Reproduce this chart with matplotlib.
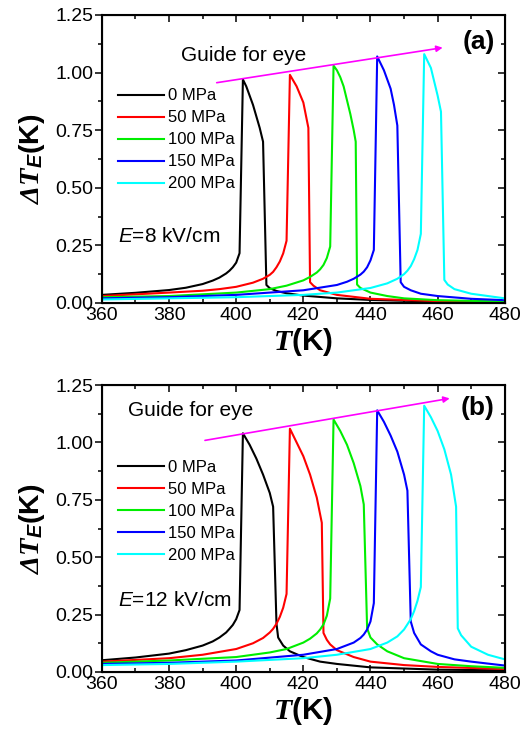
# electrocaloric dT_E vs T under stress, two field strengths

import matplotlib
matplotlib.use( 'Agg' )
import matplotlib.pyplot as plt
from matplotlib.ticker import MultipleLocator

# fonts
plt.rcParams[ 'font.family' ]      = [ 'Liberation Sans', 'DejaVu Sans' ]
plt.rcParams[ 'mathtext.fontset' ] = 'custom'
plt.rcParams[ 'mathtext.it' ]      = 'Liberation Serif:italic:bold'
plt.rcParams[ 'mathtext.rm' ]      = 'Liberation Serif:italic:bold'
plt.rcParams[ 'mathtext.bf' ]      = 'Liberation Sans:bold'
plt.rcParams[ 'mathtext.sf' ]      = 'Liberation Sans:bold:italic'
plt.rcParams[ 'mathtext.cal' ]     = 'Liberation Sans:italic'

# data; panel (a), E = 8 kV/cm
T0_a   = [ 360, 370, 380, 385, 390, 393, 395, 397, 398, 399, 400, 401, 402, 403, 404, 405, 406, 407, 408, 409, 410, 412, 415, 420, 430, 440, 460, 480 ]
dT0_a  = [ 0.035, 0.044, 0.056, 0.066, 0.082, 0.097, 0.11, 0.128, 0.14, 0.155, 0.175, 0.216, 0.97, 0.94, 0.90, 0.86, 0.81, 0.76, 0.70, 0.078, 0.064, 0.052, 0.042, 0.032, 0.02, 0.013, 0.006, 0.003 ]
T50_a  = [ 360, 380, 390, 395, 400, 405, 408, 410, 411, 412, 413, 414, 415, 416, 418, 420, 421.5, 422, 423, 425, 430, 440, 460, 480 ]
dT50_a = [ 0.03, 0.045, 0.053, 0.06, 0.07, 0.088, 0.105, 0.122, 0.135, 0.155, 0.18, 0.215, 0.27, 0.99, 0.94, 0.87, 0.76, 0.09, 0.075, 0.055, 0.035, 0.018, 0.008, 0.004 ]
T100_a  = [ 360, 380, 400, 410, 415, 420, 422, 424, 425, 426, 427, 428, 429, 430, 431, 432, 433, 434, 435, 435.6, 436, 437, 440, 445, 450, 460, 480 ]
dT100_a = [ 0.025, 0.03, 0.045, 0.06, 0.075, 0.098, 0.113, 0.132, 0.146, 0.165, 0.195, 0.245, 1.03, 1.01, 0.98, 0.94, 0.88, 0.82, 0.75, 0.70, 0.08, 0.065, 0.045, 0.03, 0.02, 0.012, 0.006 ]
T150_a  = [ 360, 380, 400, 420, 430, 433, 435, 437, 438, 439, 440, 441, 442, 444, 446, 447, 448, 449, 450, 452, 455, 460, 470, 480 ]
dT150_a = [ 0.02, 0.025, 0.035, 0.055, 0.078, 0.092, 0.105, 0.123, 0.136, 0.155, 0.185, 0.23, 1.07, 1.01, 0.93, 0.86, 0.77, 0.09, 0.07, 0.055, 0.04, 0.03, 0.018, 0.012 ]
T200_a  = [ 360, 400, 420, 430, 440, 445, 448, 450, 451, 452, 453, 454, 455, 456, 458, 460, 461, 462, 463, 465, 470, 475, 480 ]
dT200_a = [ 0.015, 0.025, 0.035, 0.045, 0.065, 0.085, 0.105, 0.125, 0.14, 0.16, 0.19, 0.23, 0.30, 1.08, 1.02, 0.90, 0.83, 0.10, 0.08, 0.06, 0.04, 0.03, 0.02 ]

# data; panel (b), E = 12 kV/cm
T0_b   = [ 360, 370, 380, 385, 390, 393, 395, 397, 398, 399, 400, 401, 402, 404, 406, 408, 410, 411, 412, 412.5, 414, 416, 420, 425, 430, 440, 460, 480 ]
dT0_b  = [ 0.051, 0.063, 0.08, 0.095, 0.115, 0.133, 0.15, 0.172, 0.188, 0.205, 0.23, 0.27, 1.04, 0.99, 0.93, 0.86, 0.78, 0.72, 0.21, 0.15, 0.115, 0.09, 0.065, 0.045, 0.035, 0.02, 0.01, 0.007 ]
T50_b  = [ 360, 380, 390, 400, 405, 408, 410, 411, 412, 413, 414, 415, 416, 418, 420, 422, 424, 425.5, 426, 427, 428, 430, 435, 440, 450, 460, 480 ]
dT50_b = [ 0.045, 0.06, 0.075, 0.1, 0.125, 0.148, 0.172, 0.188, 0.21, 0.24, 0.28, 0.34, 1.06, 1.0, 0.94, 0.86, 0.76, 0.65, 0.17, 0.14, 0.12, 0.095, 0.065, 0.045, 0.03, 0.022, 0.013 ]
T100_b  = [ 360, 380, 400, 410, 415, 420, 422, 424, 425, 426, 427, 428, 429, 431, 433, 435, 437, 438, 439, 440, 442, 445, 450, 460, 470, 480 ]
dT100_b = [ 0.04, 0.05, 0.065, 0.085, 0.1, 0.128, 0.145, 0.168, 0.185, 0.207, 0.245, 0.32, 1.10, 1.05, 0.99, 0.91, 0.81, 0.73, 0.19, 0.15, 0.12, 0.09, 0.06, 0.035, 0.025, 0.018 ]
T150_b  = [ 360, 380, 400, 420, 430, 435, 437, 438, 439, 440, 441, 442, 444, 446, 448, 450, 451, 452, 453, 455, 458, 460, 465, 470, 480 ]
dT150_b = [ 0.035, 0.04, 0.05, 0.075, 0.1, 0.128, 0.148, 0.163, 0.185, 0.22, 0.30, 1.14, 1.09, 1.03, 0.96, 0.86, 0.79, 0.22, 0.17, 0.12, 0.09, 0.075, 0.055, 0.045, 0.028 ]
T200_b  = [ 360, 380, 400, 420, 430, 440, 445, 448, 450, 452, 453, 454, 455, 456, 458, 460, 462, 464, 465.5, 466, 467, 470, 475, 480 ]
dT200_b = [ 0.03, 0.035, 0.045, 0.06, 0.075, 0.1, 0.128, 0.155, 0.185, 0.23, 0.265, 0.31, 0.37, 1.16, 1.11, 1.05, 0.97, 0.86, 0.72, 0.19, 0.16, 0.11, 0.075, 0.055 ]

LABELS = [ '0 MPa', '50 MPa', '100 MPa', '150 MPa', '200 MPa' ]
COLORS = [ 'black', '#ff0000', '#00ee00', '#0000ff', '#00ffff' ]

# guide arrows, start and end in data coordinates
GUIDE_A = [ ( 394.2, 0.956 ), ( 461.5, 1.108 ) ]
GUIDE_B = [ ( 390.7, 1.009 ), ( 463.6, 1.192 ) ]

panels = [
	dict( curves=[ ( T0_a, dT0_a ), ( T50_a, dT50_a ), ( T100_a, dT100_a ), ( T150_a, dT150_a ), ( T200_a, dT200_a ) ],
	      rect=[ 0.193, 0.585, 0.763, 0.3945 ], tag='(a)', tagy=0.905, field='=8 kV/cm', fieldy=0.23,
	      guide=GUIDE_A, guidetext=( 383.5, 1.076 ), legy=0.745 ),
	dict( curves=[ ( T0_b, dT0_b ), ( T50_b, dT50_b ), ( T100_b, dT100_b ), ( T150_b, dT150_b ), ( T200_b, dT200_b ) ],
	      rect=[ 0.193, 0.0795, 0.763, 0.393 ], tag='(b)', tagy=0.92, field='=12 kV/cm', fieldy=0.248,
	      guide=GUIDE_B, guidetext=( 367.7, 1.138 ), legy=0.74 ),
]

# initialize
figure = plt.figure( figsize=( 5.28, 7.30 ), dpi=100 )

for panel in panels :

	axis = figure.add_axes( panel[ 'rect' ] )

	# curves
	for ( x, y ), label, color in zip( panel[ 'curves' ], LABELS, COLORS ) :
		axis.plot( x, y, color=color, lw=1.5, label=label )

	# axes
	axis.set_xlim( 360, 480 )
	axis.set_ylim( 0, 1.25 )
	axis.xaxis.set_major_locator( MultipleLocator( 20 ) )
	axis.xaxis.set_minor_locator( MultipleLocator( 10 ) )
	axis.yaxis.set_major_locator( MultipleLocator( 0.25 ) )
	axis.yaxis.set_minor_locator( MultipleLocator( 0.125 ) )
	axis.yaxis.set_major_formatter( '{x:.2f}' )
	for spine in axis.spines.values() : spine.set_linewidth( 1.5 )
	axis.tick_params( axis='x', which='both', direction='in', top=True, labelsize=14, width=1.1, pad=3 )
	axis.tick_params( axis='x', which='major', length=5 )
	axis.tick_params( axis='x', which='minor', length=3 )
	axis.tick_params( axis='y', which='both', direction='out', labelsize=14, width=1.1, pad=1 )
	axis.tick_params( axis='y', which='major', length=5 )
	axis.tick_params( axis='y', which='minor', length=3 )

	# right side ticks point inward
	twin = axis.twinx()
	twin.set_ylim( 0, 1.25 )
	twin.yaxis.set_major_locator( MultipleLocator( 0.25 ) )
	twin.yaxis.set_minor_locator( MultipleLocator( 0.125 ) )
	twin.tick_params( axis='y', which='both', direction='in', labelright=False, width=1.1 )
	twin.tick_params( axis='y', which='major', length=5 )
	twin.tick_params( axis='y', which='minor', length=3 )

	# labels
	axis.set_xlabel( r'$\mathit{T}\mathbf{(K)}$', fontsize=21.5, labelpad=1 )
	axis.set_ylabel( r'$\mathit{\Delta T}_{\mathsf{E}}\mathbf{(K)}$', fontsize=20.5, labelpad=6 )

	# legend
	axis.legend( loc='upper left', bbox_to_anchor=( 0.04, panel[ 'legy' ] ), frameon=False, fontsize=12,
	             handlelength=2.75, handletextpad=0.25, labelspacing=0.42, borderpad=0, borderaxespad=0 )

	# annotations
	axis.text( 0.975, panel[ 'tagy' ], panel[ 'tag' ], transform=axis.transAxes, fontsize=19, fontweight='bold', ha='right', va='center' )
	axis.text( 0.04, panel[ 'fieldy' ], r'$\mathcal{E}$' + panel[ 'field' ], transform=axis.transAxes, fontsize=15, ha='left', va='center' )
	axis.text( panel[ 'guidetext' ][ 0 ], panel[ 'guidetext' ][ 1 ], 'Guide for eye', fontsize=15, ha='left', va='center' )
	axis.annotate( '', xy=panel[ 'guide' ][ 1 ], xytext=panel[ 'guide' ][ 0 ],
	               arrowprops=dict( arrowstyle='-|>', color='#ff00ff', lw=1.2, mutation_scale=9, shrinkA=0, shrinkB=0 ) )

# done
plt.savefig( 'out.png', dpi=100 )
